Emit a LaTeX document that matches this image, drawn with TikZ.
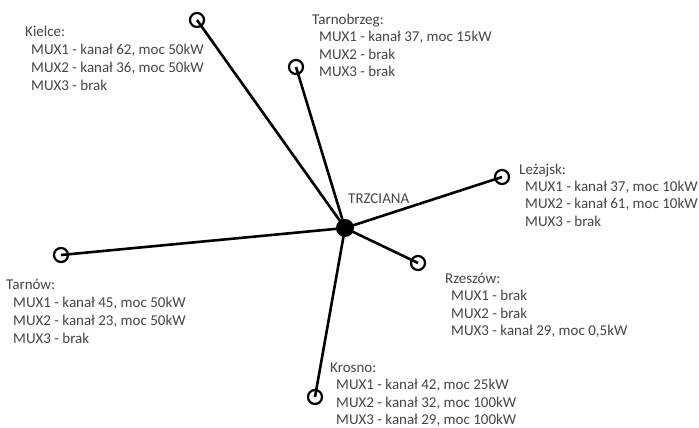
\documentclass[tikz,border=0pt]{standalone}
\usepackage{fontspec}
\setmainfont{Carlito}
\definecolor{txtgray}{HTML}{454545}
\begin{document}
\begin{tikzpicture}[x=1pt,y=-1pt,
  lbl/.style={anchor=base west, inner sep=0pt, text=txtgray, font=\fontsize{15}{18}\selectfont},
  endpt/.style={circle, draw=black, line width=2.2pt, minimum size=14pt, inner sep=0pt},
  hubnode/.style={circle, fill=black, minimum size=18pt, inner sep=0pt},
  link/.style={draw=black, line width=2.6pt}]
\useasboundingbox (0,0) rectangle (699,428);
\node[hubnode] (hub) at (345,228) {};
\node[endpt] (kielce) at (197,20) {};
\node[endpt] (tarnob) at (296,67) {};
\node[endpt] (lezajsk) at (502,177) {};
\node[endpt] (tarnow) at (61,255) {};
\node[endpt] (rzeszow) at (418,263) {};
\node[endpt] (krosno) at (315,397) {};
\foreach \e in {kielce,tarnob,lezajsk,tarnow,rzeszow,krosno}
  \draw[link] (hub.center) -- (\e.center);
\node[lbl] (hubl) at (348,203) {TRZCIANA};
% Kielce
\node[lbl] (k0) at (25,37) {Kielce:};
\node[lbl] (k1) at (31,55) {MUX1 - kanał 62, moc 50kW};
\node[lbl] (k2) at (31,72.5) {MUX2 - kanał 36, moc 50kW};
\node[lbl] (k3) at (31,90) {MUX3 - brak};
% Tarnobrzeg
\node[lbl] (t0) at (312,25) {Tarnobrzeg:};
\node[lbl] (t1) at (319,42) {MUX1 - kanał 37, moc 15kW};
\node[lbl] (t2) at (319,59.5) {MUX2 - brak};
\node[lbl] (t3) at (319,77) {MUX3 - brak};
% Lezajsk
\node[lbl] (l0) at (519,174) {Leżajsk:};
\node[lbl] (l1) at (525,191) {MUX1 - kanał 37, moc 10kW};
\node[lbl] (l2) at (525,208.5) {MUX2 - kanał 61, moc 10kW};
\node[lbl] (l3) at (525,226) {MUX3 - brak};
% Tarnow
\node[lbl] (w0) at (6,289) {Tarnów:};
\node[lbl] (w1) at (13,307) {MUX1 - kanał 45, moc 50kW};
\node[lbl] (w2) at (13,325) {MUX2 - kanał 23, moc 50kW};
\node[lbl] (w3) at (13,343) {MUX3 - brak};
% Rzeszow
\node[lbl] (r0) at (445,283) {Rzeszów:};
\node[lbl] (r1) at (451,300.5) {MUX1 - brak};
\node[lbl] (r2) at (451,318) {MUX2 - brak};
\node[lbl] (r3) at (451,335.5) {MUX3 - kanał 29, moc 0,5kW};
% Krosno
\node[lbl] (c0) at (330,372) {Krosno:};
\node[lbl] (c1) at (336,389.5) {MUX1 - kanał 42, moc 25kW};
\node[lbl] (c2) at (336,407) {MUX2 - kanał 32, moc 100kW};
\node[lbl] (c3) at (336,424) {MUX3 - kanał 29, moc 100kW};
\end{tikzpicture}
\end{document}
